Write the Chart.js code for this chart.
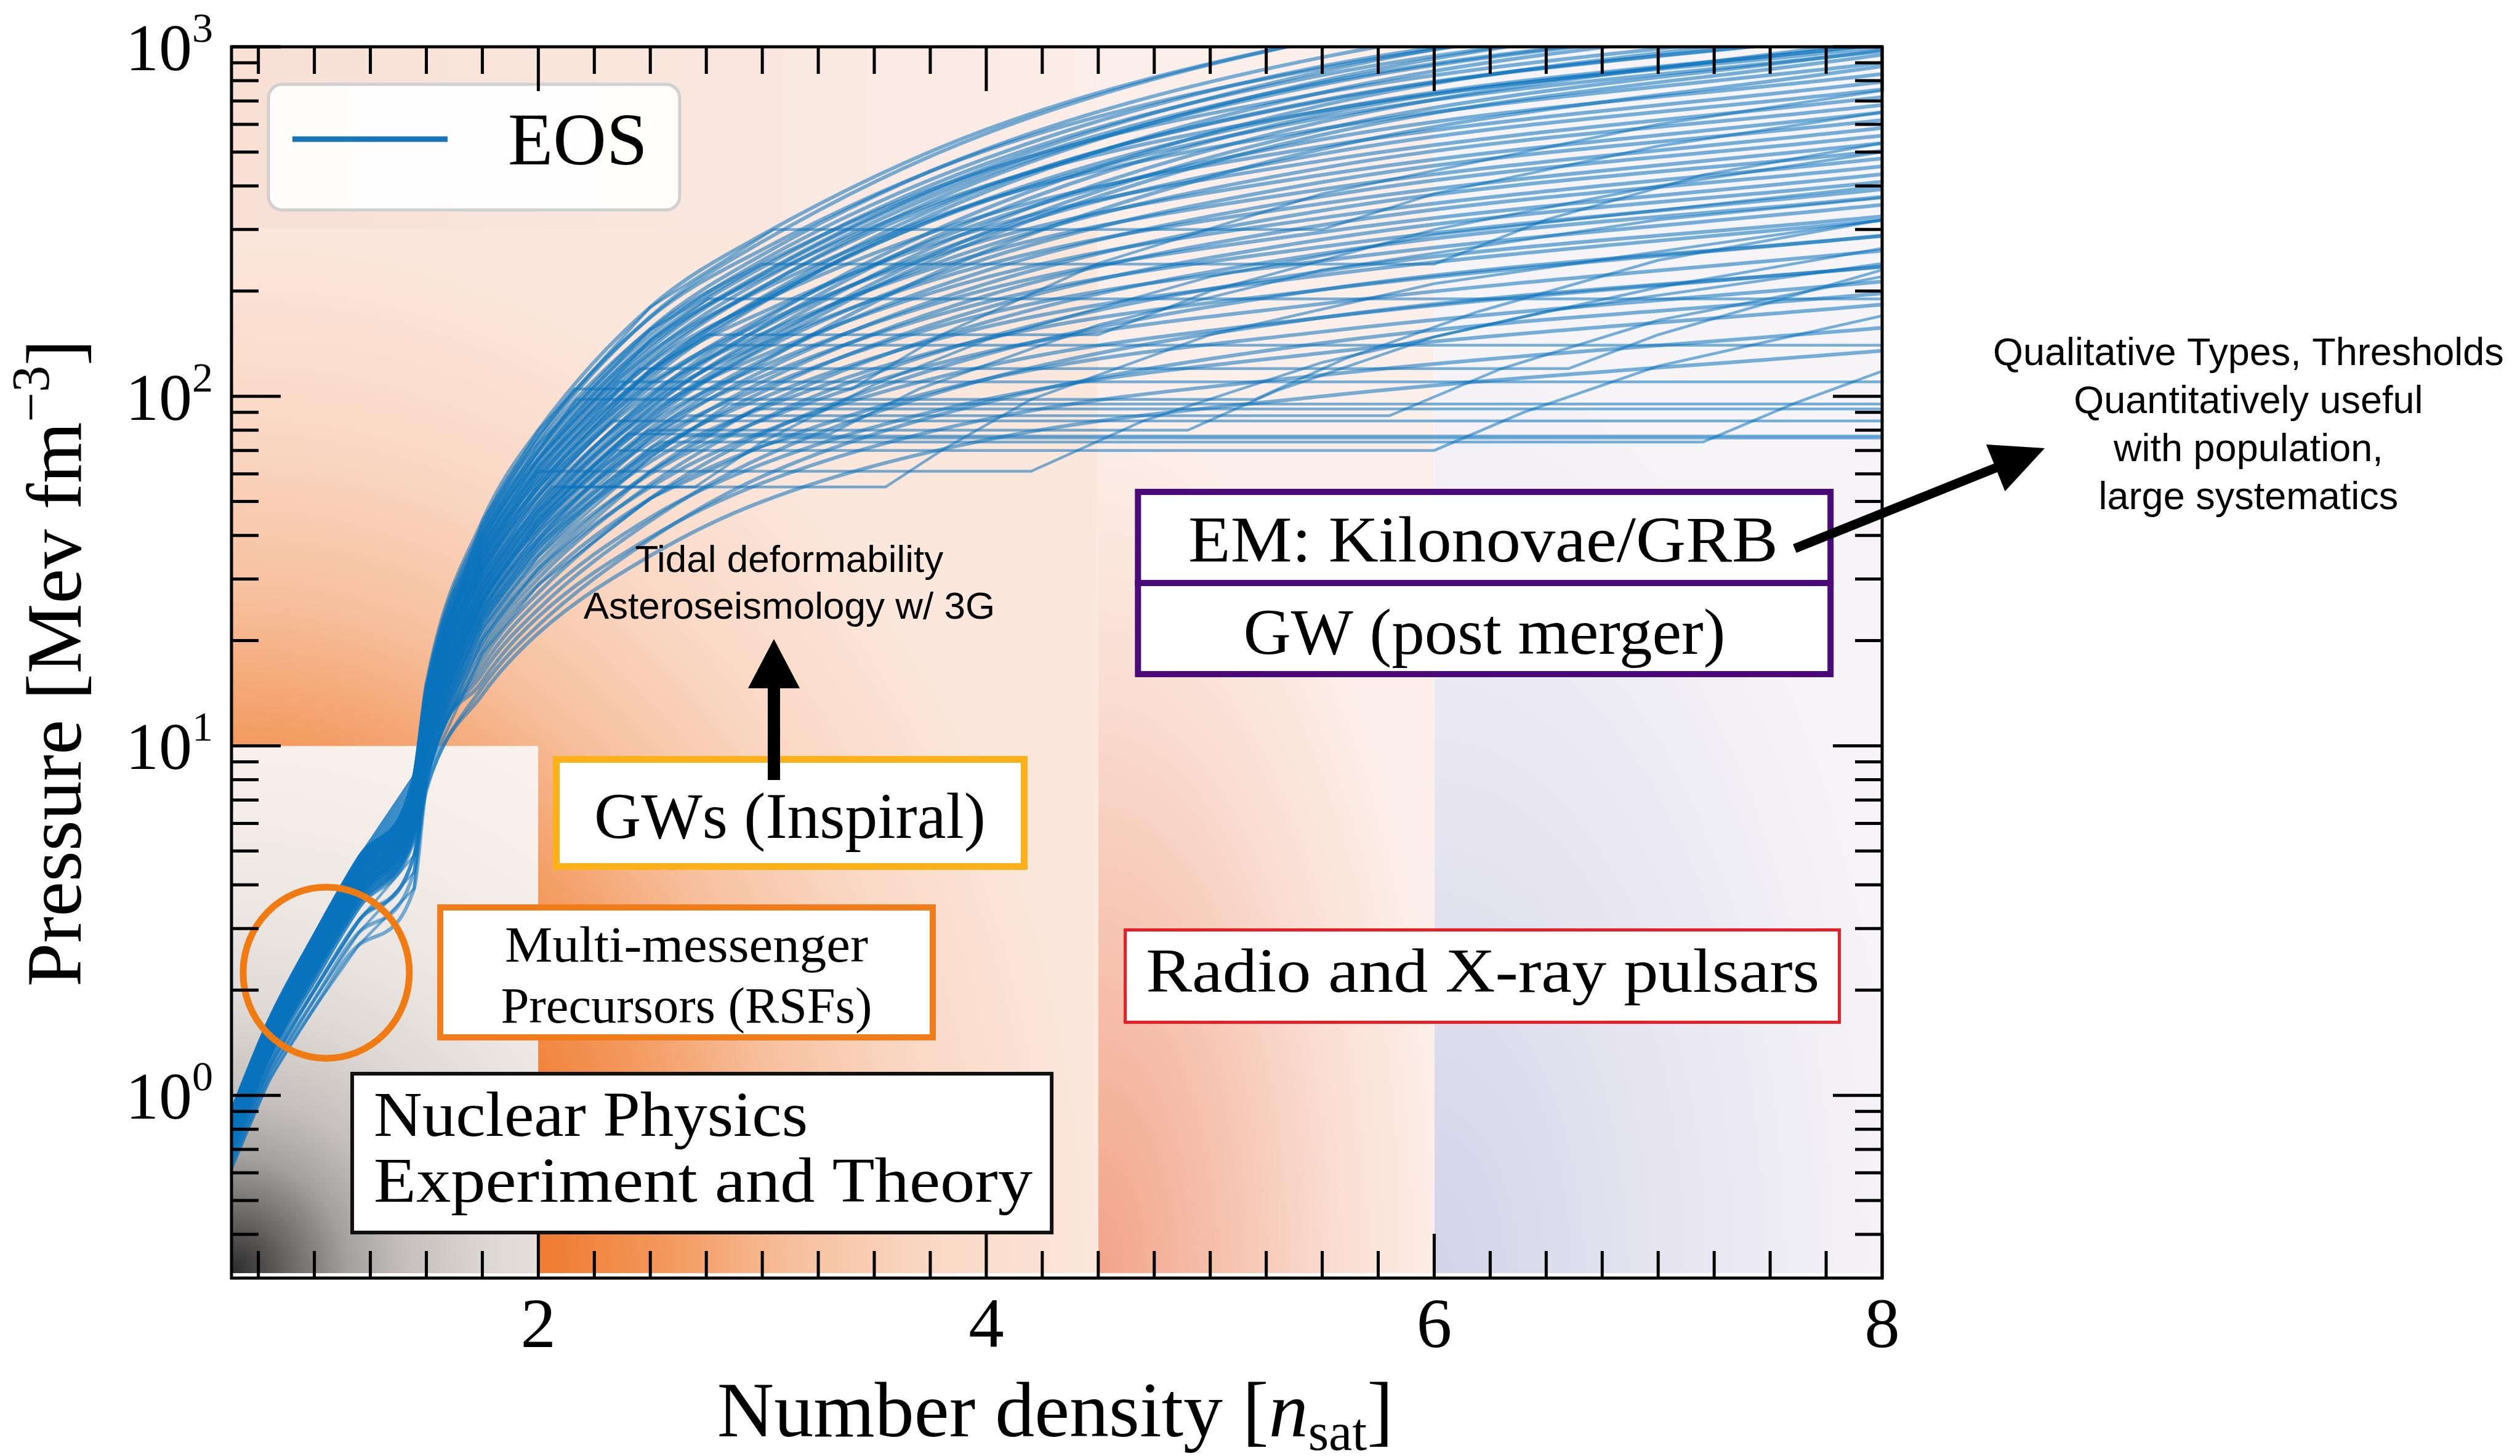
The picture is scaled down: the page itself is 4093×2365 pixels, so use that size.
<!DOCTYPE html>
<html>
<head>
<meta charset="utf-8">
<script src="https://cdn.jsdelivr.net/npm/chart.js"></script>
<style>
  html, body { margin: 0; padding: 0; background: #ffffff; }
  canvas { display: block; }
</style>
</head>
<body>
<canvas id="eos" width="4093" height="2365"></canvas>
<script>
// ---------------- data ----------------
// Low-density (n < 1.45 n_sat) start of every EOS: 12 paths on the main branch, 4 on the softer side branch
const lowDensityGrid = [0.63, 0.8, 1.0, 1.2, 1.445];
const lowBranches = [
  [0.700, 1.300, 2.20, 3.55, 5.60],
  [0.716, 1.329, 2.25, 3.65, 5.80],
  [0.732, 1.358, 2.31, 3.75, 6.00],
  [0.749, 1.387, 2.36, 3.85, 6.21],
  [0.767, 1.418, 2.42, 3.96, 6.43],
  [0.784, 1.449, 2.48, 4.07, 6.66],
  [0.803, 1.481, 2.54, 4.18, 6.90],
  [0.821, 1.513, 2.61, 4.30, 7.14],
  [0.840, 1.546, 2.67, 4.42, 7.39],
  [0.859, 1.580, 2.74, 4.54, 7.65],
  [0.879, 1.615, 2.80, 4.67, 7.92],
  [0.900, 1.650, 2.87, 4.80, 8.20],
  [0.620, 1.110, 1.78, 2.70, 3.90],
  [0.640, 1.160, 1.88, 2.93, 4.35],
  [0.665, 1.210, 2.00, 3.17, 4.85],
  [0.690, 1.270, 2.12, 3.45, 5.40]
];

// Smooth high-density EOS: pressure [MeV fm^-3] at these densities [n_sat]
const highDensityGrid = [1.5, 1.75, 2.0, 2.5, 3.0, 4.0, 5.5, 8.0];
const smoothPressures = [
  [15.0, 44.0, 80.0, 180, 290, 580, 1050, 1700],
  [14.75, 42.5, 77.0, 168, 263, 505, 870, 1390],
  [14.5, 41.5, 75.0, 169, 277, 565, 1050, 1700],
  [14.25, 40.6, 73.0, 155, 239, 444, 738, 1160],
  [14.0, 39.2, 70.0, 156, 254, 510, 933, 1500],
  [13.77, 38.3, 68.0, 143, 219, 401, 656, 1020],
  [13.54, 37.4, 66.0, 145, 234, 463, 830, 1320],
  [13.3, 36.6, 65.0, 133, 202, 364, 583, 900],
  [13.1, 35.8, 63.0, 137, 223, 440, 790, 1250],
  [12.85, 35.0, 61.0, 124, 187, 330, 519, 794],
  [12.65, 34.2, 60.0, 128, 206, 399, 704, 1100],
  [12.4, 33.4, 58.0, 117, 174, 304, 472, 718],
  [12.2, 32.6, 56.5, 119, 190, 362, 626, 973],
  [12.0, 31.9, 55.0, 109, 162, 280, 430, 649],
  [11.8, 31.2, 53.5, 115, 187, 366, 656, 1020],
  [11.6, 30.5, 52.0, 102, 151, 258, 391, 586],
  [11.4, 29.8, 50.7, 106, 168, 317, 543, 836],
  [11.2, 29.1, 49.4, 96, 141, 238, 356, 530],
  [11.0, 28.4, 48.1, 99, 157, 292, 494, 755],
  [10.85, 27.8, 46.9, 90, 131, 219, 324, 479],
  [10.65, 27.2, 45.6, 93, 146, 269, 450, 682],
  [10.5, 26.5, 44.4, 84, 122, 202, 295, 432],
  [10.3, 25.9, 43.2, 87, 136, 248, 410, 617],
  [10.1, 25.4, 42.1, 79, 114, 186, 268, 391],
  [9.95, 24.8, 41.0, 81, 127, 229, 373, 557],
  [9.8, 24.2, 39.9, 74, 106, 172, 244, 353],
  [9.6, 23.7, 38.8, 76, 118, 210, 340, 504],
  [9.45, 23.2, 37.8, 69, 99, 158, 222, 319],
  [9.3, 22.6, 36.8, 71, 110, 194, 309, 455],
  [9.15, 22.1, 35.8, 65, 92.5, 146, 202, 288],
  [9.0, 21.6, 34.9, 67, 103, 179, 281, 411],
  [8.85, 20.9, 33.5, 60, 85.5, 134, 184, 261],
  [8.7, 20.2, 32.2, 61, 94, 163, 256, 372],
  [8.55, 19.7, 31.3, 55, 79, 122, 168, 235],
  [8.4, 19.1, 30.1, 56, 86, 147, 228, 327],
  [8.25, 18.4, 28.9, 51, 72, 112, 153, 213],
  [8.1, 17.6, 27.4, 51, 78, 132, 202, 288],
  [8.0, 16.8, 26.0, 45, 64, 98, 133, 183],
  [7.85, 16.1, 24.6, 44, 67, 112, 168, 235],
  [7.7, 15.3, 23.4, 39.5, 56.5, 86, 115, 157],
  [7.6, 14.7, 22.1, 39, 59, 96, 142, 197],
  [7.45, 14.0, 21.0, 35, 50, 75, 100, 135],
  // late-stiffening EOS
  [13.5, 38.0, 66.0, 140, 225, 450, 850, 1500],
  [12.5, 34.0, 58.0, 125, 205, 420, 800, 1400],
  [11.5, 31.0, 52.0, 112, 185, 385, 740, 1250],
  [10.8, 29.0, 48.0, 100, 165, 345, 680, 1150],
  [10.2, 27.0, 45.0, 92, 150, 310, 610, 1050],
  [9.7, 25.5, 42.0, 85, 138, 285, 560, 950],
  [9.2, 24.0, 39.0, 78, 125, 260, 510, 880],
  [13.0, 36.0, 62.0, 132, 215, 430, 780, 1250],
  [12.0, 32.5, 55.0, 118, 192, 395, 700, 1100],
  [10.5, 28.0, 46.5, 96, 158, 330, 640, 1000],
  [14.2, 40.0, 70.0, 150, 245, 480, 880, 1350],
  [9.9, 26.0, 43.5, 88, 142, 295, 580, 980]
];
// which low-density path each smooth EOS starts from (index into lowBranches)
const smoothBranch = [11,11,11,10,10,10,9,9,9,8,8,8,7,7,7,6,6,6,5,5,5,4,4,4,3,3,3,2,2,2,1,1,1,0,0,0,
                      15,14,13,12,15,14,
                      10,8,6,5,4,3,2,9,7,5,11,3];

// EOS with a first-order phase transition: [n_sat, MeV fm^-3] pairs incl. the flat plateau
const transitionCurves = [
  [[1.5,10.85],[1.75,27.8],[2.0,46.9],[2.12,55],[2.7,55],[3.0,74],[3.5,108],[4.0,145],[5.0,220],[6.0,290],[8.0,400]],
  [[1.5,11.2],[1.75,29.1],[2.0,49.4],[2.06,55],[3.55,55],[3.8,70],[4.2,98],[5.0,150],[6.0,210],[8.0,320]],
  [[1.5,9.45],[1.75,23.2],[2.0,37.8],[2.5,69],[2.63,77],[8.0,77]],
  [[1.5,11.6],[1.75,30.5],[2.0,52],[2.33,85],[8.0,85]],
  [[1.5,8.7],[1.75,20.2],[2.0,32.2],[2.5,61],[2.97,92],[8.0,92]],
  [[1.5,14.0],[1.75,39.2],[2.0,70],[2.17,98],[5.2,98],[5.6,128],[6.2,175],[7.0,245],[8.0,320]],
  [[1.5,9.95],[1.75,24.8],[2.0,41],[2.49,80],[4.9,80],[5.3,104],[6.0,148],[7.0,205],[8.0,265]],
  [[1.5,10.3],[1.75,25.9],[2.0,43.2],[2.35,70],[6.0,70],[6.4,90],[7.0,122],[8.0,170]],
  [[1.5,12.65],[1.75,34.2],[2.0,59.6],[2.45,120],[6.6,120],[7.0,150],[8.0,230]],
  [[1.5,12.2],[1.75,32.6],[2.0,56.5],[2.5,119],[2.75,150],[4.5,150],[5.0,200],[6.0,300],[7.0,400],[8.0,500]],
  [[1.5,13.54],[1.75,37.4],[2.0,66],[2.5,145],[2.76,190],[8.0,190]],
  [[1.5,14.75],[1.75,42.5],[2.0,77],[2.16,105],[3.4,105],[3.8,150],[4.5,240],[5.5,380],[7.0,600],[8.0,750]],
  [[1.5,8.25],[1.75,18.4],[2.0,28.9],[2.5,51],[3.0,72],[3.13,76],[8.0,76]],
  [[1.5,14.25],[1.75,40.6],[2.0,73],[2.5,155],[3.0,239],[6.0,239],[6.5,320],[7.2,430],[8.0,530]],
  [[1.5,15.0],[1.75,44],[2.0,80],[2.5,180],[3.05,300],[5.5,300],[6.0,380],[7.0,520],[8.0,650]],
  [[1.5,12.85],[1.75,35],[2.0,61],[4.2,61],[4.7,85],[5.5,125],[6.5,175],[8.0,240]],
  [[1.5,13.1],[1.75,35.8],[2.0,63],[2.36,110],[8.0,110]],
  [[1.5,9.6],[1.75,23.7],[2.0,38.8],[2.5,76],[2.66,88],[5.8,88],[6.3,120],[7.0,165],[8.0,220]],
  [[1.5,9.0],[1.75,21.6],[2.0,34.9],[2.5,67],[2.85,95],[8.0,95]],
  [[1.5,12.0],[1.75,31.9],[2.0,55],[2.5,109],[2.8,140],[8.0,140]],
  [[1.5,10.5],[1.75,26.5],[2.0,44.4],[2.4,78],[3.3,78],[3.7,105],[4.5,160],[5.5,230],[7.0,320],[8.0,370]],
  [[1.5,9.3],[1.75,22.6],[2.0,36.8],[2.5,71],[2.55,74],[7.2,74],[7.6,95],[8.0,118]]
];
const transitionBranch = [5,6,13,6,12,10,3,4,8,7,9,11,14,10,11,8,9,3,1,7,4,2];

// axes
const densityRange = [0.63, 8];
const pressureRange = [0.31, 1000];
const xTickLabels = [2, 4, 6, 8];
const yTickDecades = [0, 1, 2, 3];

// shaded constraint regions: density edges [n_sat] and pressure edges [MeV fm^-3]
const densityEdges = [0.63, 2, 4.5, 6, 8];
const pressureEdges = [0.31, 10, 300, 1000];

// ---------------- datasets ----------------
const eosColor = 'rgba(10,115,190,0.55)';
function lowPart(k) {
  return lowDensityGrid.map((x, j) => ({ x, y: lowBranches[k][j] }));
}
const datasets = [];
smoothPressures.forEach((row, i) => {
  datasets.push({
    label: 'EOS',
    data: lowPart(smoothBranch[i]).concat(highDensityGrid.map((x, j) => ({ x, y: row[j] }))),
    borderColor: eosColor, borderWidth: 6, pointRadius: 0, fill: false,
    cubicInterpolationMode: 'monotone'
  });
});
transitionCurves.forEach((pts, i) => {
  datasets.push({
    label: 'EOS',
    data: lowPart(transitionBranch[i]).concat(pts.map(([x, y]) => ({ x, y }))),
    borderColor: eosColor, borderWidth: 4.5, pointRadius: 0, fill: false,
    tension: 0
  });
});

// ---------------- helpers ----------------
const SERIF = '"Liberation Serif", "Times New Roman", serif';
const SANS = '"Liberation Sans", Arial, sans-serif';

function radialFill(ctx, x0, y0, x1, y1, cx, cy, rx, ry, stops) {
  ctx.save();
  ctx.beginPath(); ctx.rect(x0, y0, x1 - x0, y1 - y0); ctx.clip();
  ctx.translate(cx, cy); ctx.scale(rx, ry);
  const g = ctx.createRadialGradient(0, 0, 0, 0, 0, 1);
  stops.forEach(([o, c]) => g.addColorStop(o, c));
  ctx.fillStyle = g;
  ctx.fillRect((x0 - cx) / rx, (y0 - cy) / ry, (x1 - x0) / rx, (y1 - y0) / ry);
  ctx.restore();
}

function richText(ctx, parts, x, y, align) {
  let w = 0;
  parts.forEach(p => { ctx.font = p.f; p.w = ctx.measureText(p.t).width; w += p.w; });
  let cx = align === 'center' ? x - w / 2 : (align === 'right' ? x - w : x);
  ctx.textAlign = 'left';
  parts.forEach(p => { ctx.font = p.f; ctx.fillText(p.t, cx, y + (p.dy || 0)); cx += p.w; });
}

function fitText(ctx, text, x, y, font, width, align) {
  ctx.save();
  ctx.font = font;
  const w = ctx.measureText(text).width;
  ctx.translate(x, y);
  ctx.scale(width / w, 1);
  ctx.textAlign = align;
  ctx.fillText(text, 0, 0);
  ctx.restore();
}

function arrow(ctx, x0, y0, x1, y1, shaftW, headL, headW) {
  const ang = Math.atan2(y1 - y0, x1 - x0);
  const len = Math.hypot(x1 - x0, y1 - y0);
  ctx.save();
  ctx.translate(x0, y0); ctx.rotate(ang);
  ctx.fillRect(0, -shaftW / 2, len - headL + 2, shaftW);
  ctx.beginPath();
  ctx.moveTo(len, 0); ctx.lineTo(len - headL, -headW / 2); ctx.lineTo(len - headL, headW / 2);
  ctx.closePath(); ctx.fill();
  ctx.restore();
}

function textBox(ctx, A, fx0, fy0, fx1, fy1, color, lw) {
  const [x0, y0] = A(fx0, fy0), [x1, y1] = A(fx1, fy1);
  ctx.fillStyle = '#ffffff';
  ctx.fillRect(x0, y0, x1 - x0, y1 - y0);
  ctx.strokeStyle = color; ctx.lineWidth = lw;
  ctx.strokeRect(x0 + lw / 2, y0 + lw / 2, x1 - x0 - lw, y1 - y0 - lw);
}

// ---------------- background shading ----------------
const shadingPlugin = {
  id: 'shading',
  beforeDatasetsDraw(chart) {
    const ctx = chart.ctx, xs = chart.scales.x, ys = chart.scales.y;
    const X = densityEdges.map(v => xs.getPixelForValue(v));
    const Y = pressureEdges.map(v => ys.getPixelForValue(v));
    const bottom = Y[0], top = Y[3];
    // orange band (2 - 4.5 n_sat, and above the nuclear box)
    radialFill(ctx, X[0], Y[2], X[2], bottom, X[0], bottom, (X[2] - X[0]) * 1.0, (bottom - Y[2]) * 1.0, [
      [0, '#e85a10'], [0.3, '#ee7024'], [0.38, '#f07f36'], [0.5, '#f3985c'],
      [0.65, '#f7c09e'], [0.8, '#fad7c3'], [1, '#fbe7dc']
    ]);
    // top band
    const gTop = ctx.createLinearGradient(X[0], 0, X[2], 0);
    gTop.addColorStop(0, '#f8e0d5'); gTop.addColorStop(1, '#fbede7');
    ctx.fillStyle = gTop;
    ctx.fillRect(X[0], top, X[2] - X[0], Y[2] - top);
    // salmon band (4.5 - 6 n_sat)
    radialFill(ctx, X[2], top, X[3], bottom, X[2], bottom, (X[3] - X[2]) * 1.05, 1400, [
      [0, '#f2a389'], [0.35, '#f6c1ad'], [0.7, '#fadfd4'], [1, '#fcefe9']
    ]);
    // lavender band (6 - 8 n_sat)
    radialFill(ctx, X[3], top, X[4], bottom, X[3], bottom, (X[4] - X[3]) * 1.05, 1500, [
      [0, '#d2d3ea'], [0.5, '#e6e5f0'], [1, '#f6f4f7']
    ]);
    // nuclear physics box (grey)
    radialFill(ctx, X[0], Y[1], X[1], bottom, X[0], bottom, 950, 950, [
      [0, '#2a2a2a'], [0.1, '#6a6766'], [0.2, '#a5a19f'], [0.3, '#c5c0bd'],
      [0.45, '#dfd9d5'], [0.6, '#ece6e2'], [0.8, '#f4ede8'], [1, '#f9f1ec']
    ]);
  }
};

// ---------------- frame, ticks, labels, annotations ----------------
const overlayPlugin = {
  id: 'overlay',
  afterDraw(chart) {
    const ctx = chart.ctx, xs = chart.scales.x, ys = chart.scales.y;
    const { left, right, top, bottom } = chart.chartArea;
    const W = right - left, H = bottom - top;
    const A = (fx, fy) => [left + fx * W, top + fy * H];

    // ---- annotation boxes & text ----
    ctx.save();
    // legend
    {
      const [x0, y0] = A(0.0224, 0.0305), [x1, y1] = A(0.2715, 0.1325);
      ctx.beginPath(); ctx.roundRect(x0, y0, x1 - x0, y1 - y0, 22);
      ctx.fillStyle = 'rgba(255,255,255,0.93)'; ctx.fill();
      ctx.strokeStyle = '#d0d0d0'; ctx.lineWidth = 5; ctx.stroke();
      const [lx0, ly] = A(0.0369, 0.075), [lx1] = A(0.1309, 0.075);
      ctx.strokeStyle = '#1a74b8'; ctx.lineWidth = 9; ctx.lineCap = 'butt';
      ctx.beginPath(); ctx.moveTo(lx0, ly); ctx.lineTo(lx1, ly); ctx.stroke();
      const [tx, ty] = A(0.1675, 0.0955);
      ctx.fillStyle = '#000'; ctx.font = `120px ${SERIF}`; ctx.textAlign = 'left';
      ctx.fillText('EOS', tx, ty);
    }
    // tidal deformability arrow + text
    ctx.fillStyle = '#000';
    {
      const [ax, ay0] = A(0.3286, 0.5955), [, ay1] = A(0.3286, 0.481);
      arrow(ctx, ax, ay0, ax, ay1, 20, 80, 84);
      ctx.font = `62px ${SANS}`; ctx.textAlign = 'center';
      let [cx, by] = A(0.3379, 0.4265); ctx.fillText('Tidal deformability', cx, by);
      [cx, by] = A(0.3379, 0.4645); ctx.fillText('Asteroseismology w/ 3G', cx, by);
    }
    // GWs (Inspiral)
    textBox(ctx, A, 0.1947, 0.576, 0.4823, 0.6685, '#fbb117', 11);
    {
      const [ax, ay0] = A(0.3286, 0.5955), [, ay1] = A(0.3286, 0.56);
      ctx.fillStyle = '#000'; ctx.fillRect(ax - 10, ay1, 20, ay0 - ay1);
      const [cx, by] = A(0.3383, 0.6425);
      fitText(ctx, 'GWs (Inspiral)', cx, by, `105px ${SERIF}`, 636, 'center');
    }
    // Multi-messenger precursors
    textBox(ctx, A, 0.1246, 0.6965, 0.4267, 0.807, '#f07d1a', 10);
    ctx.fillStyle = '#000';
    {
      let [cx, by] = A(0.2756, 0.743);
      fitText(ctx, 'Multi-messenger', cx, by, `82px ${SERIF}`, 590, 'center');
      [cx, by] = A(0.2756, 0.7925);
      fitText(ctx, 'Precursors (RSFs)', cx, by, `82px ${SERIF}`, 603, 'center');
    }
    // Nuclear physics
    textBox(ctx, A, 0.072, 0.8325, 0.498, 0.9645, '#111111', 6);
    ctx.fillStyle = '#000';
    {
      let [lx, by] = A(0.0862, 0.8845);
      fitText(ctx, 'Nuclear Physics', lx, by, `104px ${SERIF}`, 705, 'left');
      [lx, by] = A(0.0862, 0.938);
      fitText(ctx, 'Experiment and Theory', lx, by, `104px ${SERIF}`, 1070, 'left');
    }
    // EM / GW post merger
    {
      const c = '#4a0a78';
      textBox(ctx, A, 0.5473, 0.359, 0.9706, 0.512, c, 10);
      const [dx0, dy] = A(0.5473, 0.4355), [dx1] = A(0.9706, 0.4355);
      ctx.strokeStyle = c; ctx.lineWidth = 10;
      ctx.beginPath(); ctx.moveTo(dx0, dy); ctx.lineTo(dx1, dy); ctx.stroke();
      ctx.fillStyle = '#000';
      let [cx, by] = A(0.7583, 0.418);
      fitText(ctx, 'EM: Kilonovae/GRB', cx, by, `106px ${SERIF}`, 958, 'center');
      [cx, by] = A(0.759, 0.493);
      fitText(ctx, 'GW (post merger)', cx, by, `106px ${SERIF}`, 783, 'center');
    }
    // Radio and X-ray pulsars
    textBox(ctx, A, 0.5405, 0.716, 0.975, 0.7935, '#ee1c25', 5);
    {
      ctx.fillStyle = '#000';
      const [cx, by] = A(0.758, 0.7675);
      fitText(ctx, 'Radio and X-ray pulsars', cx, by, `101px ${SERIF}`, 1094, 'center');
    }
    // orange circle
    {
      const [cx, cy] = A(0.0574, 0.752);
      ctx.strokeStyle = '#ef7b12'; ctx.lineWidth = 11;
      ctx.beginPath(); ctx.ellipse(cx, cy, 135, 139, 0, 0, Math.PI * 2); ctx.stroke();
    }
    ctx.restore();

    // ---- ticks ----
    ctx.save();
    ctx.strokeStyle = '#000'; ctx.lineCap = 'butt'; ctx.lineWidth = 5;
    const seg = (x0, y0, x1, y1) => { ctx.beginPath(); ctx.moveTo(x0, y0); ctx.lineTo(x1, y1); ctx.stroke(); };
    for (let k = 3; k <= 32; k++) {
      const v = k * 0.25;
      const x = xs.getPixelForValue(v);
      const len = (k % 8 === 0) ? 72 : 44;
      seg(x, bottom, x, bottom - len);
      seg(x, top, x, top + len);
    }
    for (let d = -1; d <= 3; d++) {
      for (let m = 1; m <= 9; m++) {
        const v = m * Math.pow(10, d);
        if (v < pressureRange[0] || v > pressureRange[1] * 1.0001) continue;
        const y = ys.getPixelForValue(v);
        const len = (m === 1) ? 80 : 44;
        seg(left, y, left + len, y);
        seg(right, y, right - len, y);
      }
    }
    // frame
    ctx.lineWidth = 5;
    ctx.strokeRect(left, top, W, H);
    ctx.restore();

    // ---- tick labels ----
    ctx.save();
    ctx.fillStyle = '#000';
    ctx.textBaseline = 'alphabetic';
    xTickLabels.forEach(v => {
      ctx.font = `115px ${SERIF}`; ctx.textAlign = 'center';
      ctx.fillText(String(v), xs.getPixelForValue(v), bottom + 112);
    });
    yTickDecades.forEach(d => {
      const y = ys.getPixelForValue(Math.pow(10, d));
      richText(ctx, [
        { t: '10', f: `108px ${SERIF}` },
        { t: String(d), f: `68px ${SERIF}`, dy: -46 }
      ], left - 30, y + 38, 'right');
    });
    // axis titles
    richText(ctx, [
      { t: 'Number density [', f: `128px ${SERIF}` },
      { t: 'n', f: `italic 128px ${SERIF}` },
      { t: 'sat', f: `86px ${SERIF}`, dy: 22 },
      { t: ']', f: `128px ${SERIF}` }
    ], left + W * 0.499, bottom + 257, 'center');
    ctx.translate(left - 245, top + H * 0.5005);
    ctx.rotate(-Math.PI / 2);
    richText(ctx, [
      { t: 'Pressure [Mev fm', f: `128px ${SERIF}` },
      { t: '\u22123', f: `86px ${SERIF}`, dy: -52 },
      { t: ']', f: `128px ${SERIF}` }
    ], 0, 0, 'center');
    ctx.restore();

    // ---- side note with connector ----
    ctx.save();
    ctx.fillStyle = '#000';
    {
      const [x0, y0] = A(0.947, 0.4075), [x1, y1] = A(1.0985, 0.326);
      arrow(ctx, x0, y0, x1, y1, 15, 86, 82);
      ctx.font = `63px ${SANS}`; ctx.textAlign = 'center';
      const notes = ['Qualitative Types, Thresholds', 'Quantitatively useful', 'with population,', 'large systematics'];
      const base = [0.2585, 0.2975, 0.3365, 0.3755];
      notes.forEach((t, i) => { const [cx, by] = A(1.2219, base[i]); ctx.fillText(t, cx, by); });
    }
    ctx.restore();
  }
};

// ---------------- chart ----------------
new Chart(document.getElementById('eos'), {
  type: 'line',
  data: { datasets },
  options: {
    responsive: false,
    devicePixelRatio: 1,
    animation: false,
    events: [],
    layout: { padding: { left: 0, top: 76, right: 1036, bottom: 0 } },
    plugins: { legend: { display: false }, tooltip: { enabled: false } },
    scales: {
      x: {
        type: 'linear', min: densityRange[0], max: densityRange[1],
        grid: { display: false }, border: { display: false }, ticks: { display: false },
        afterFit(scale) { scale.height = 289; }
      },
      y: {
        type: 'logarithmic', min: pressureRange[0], max: pressureRange[1],
        grid: { display: false }, border: { display: false }, ticks: { display: false },
        afterFit(scale) { scale.width = 376; }
      }
    }
  },
  plugins: [shadingPlugin, overlayPlugin]
});
</script>
</body>
</html>
